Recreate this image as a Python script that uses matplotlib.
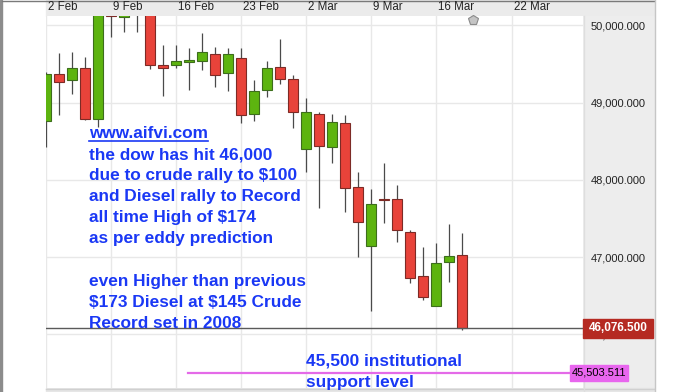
import matplotlib
matplotlib.use("Agg")
import matplotlib.pyplot as plt
from matplotlib.patches import Rectangle
from matplotlib.lines import Line2D
from matplotlib.transforms import ScaledTranslation

plt.rcParams['font.family'] = ['Liberation Sans', 'DejaVu Sans']
plt.rcParams['text.parse_math'] = False

# daily candles, 2 Feb .. 20 Mar (trading day index)
days = list(range(33))
opens = [48761, 49370, 49292, 49447, 48787, 50160, 50101, 50300, 50180, 49486,
         49486, 49525, 49538, 49628, 49383, 49577, 48852, 49162, 49460, 49305,
         48399, 48852, 48425, 48735, 47907, 47143, 47745, 47752, 47325, 46755,
         46366, 46936, 47027]
highs = [49400, 49641, 49654, 49590, 50250, 50300, 50350, 50400, 50250, 49745,
         49745, 49706, 49900, 49719, 49706, 49706, 49292, 49538, 49823, 49357,
         49059, 48878, 48852, 48839, 48101, 47881, 48218, 47933, 47351, 47131,
         47182, 47428, 47312]
lows = [48420, 48839, 49111, 48774, 48684, 49848, 49917, 49913, 49434, 49085,
        49447, 49162, 49421, 49201, 49149, 48735, 48761, 49072, 49240, 48671,
        48101, 47635, 48218, 47584, 47001, 46301, 47441, 47195, 46664, 46444,
        46366, 46677, 46060]
closes = [49370, 49266, 49447, 48787, 50180, 50125, 50250, 50200, 49486, 49447,
          49538, 49551, 49654, 49357, 49628, 48839, 49149, 49447, 49305, 48878,
          48878, 48438, 48748, 47894, 47454, 47687, 47735, 47351, 46729, 46483,
          46923, 47014, 46076.5]

week_days = [0, 5, 10, 15, 20, 25, 30, 35.85]
week_labels = ["2 Feb", "9 Feb", "16 Feb", "23 Feb", "2 Mar", "9 Mar", "16 Mar", "22 Mar"]
price_ticks = [46000, 47000, 48000, 49000, 50000]
last_price = 46076.5
support_price = 45503.511
marker_day, marker_price = 32.85, 50068

note_lines = ["www.aifvi.com",
              "the dow has hit 46,000",
              "due to crude rally to $100",
              "and Diesel rally to Record",
              "all time High of $174",
              "as per eddy prediction",
              "",
              "even Higher than previous",
              "$173 Diesel at $145 Crude",
              "Record set in 2008"]
support_lines = ["45,500 institutional", "support level"]

W, H = 688, 392
BLUE = "#1a38f5"


def fx(x):
    return x / W


def fy(y):
    return 1 - y / H


fig = plt.figure(figsize=(W / 100, H / 100), dpi=100)
fig.patch.set_facecolor("white")

# frame pieces around the plot
fig.add_artist(Rectangle((0, 0), fx(2), 1, transform=fig.transFigure, color="#8c8c8c", zorder=-2))
fig.add_artist(Rectangle((fx(46), fy(16)), (654 - 46) / W, 16 / H, transform=fig.transFigure,
                         color="#ebebeb", zorder=-2))
fig.add_artist(Rectangle((fx(583), fy(388)), 71 / W, 372 / H, transform=fig.transFigure,
                         color="#ededed", zorder=-2))
fig.add_artist(Rectangle((fx(46), 0), (654 - 46) / W, 4 / H, transform=fig.transFigure,
                         color="#e6e6e6", zorder=-2))
fig.add_artist(Line2D([fx(2), fx(654)], [fy(0.5)] * 2, transform=fig.transFigure,
                      color="#7a7a7a", lw=1, zorder=-1))
fig.add_artist(Line2D([fx(46), fx(654)], [fy(388.5)] * 2, transform=fig.transFigure,
                      color="#d0d0d0", lw=1, zorder=-1))
fig.add_artist(Line2D([fx(583.5)] * 2, [0, fy(16)], transform=fig.transFigure,
                      color="#dedede", lw=1, zorder=-1))
fig.add_artist(Line2D([fx(654.5)] * 2, [0, 1], transform=fig.transFigure,
                      color="#c6c6c6", lw=1, zorder=-1))

ax = fig.add_axes([fx(46), fy(388), (583 - 46) / W, (388 - 16) / H])
ax.set_facecolor("white")
for s in ax.spines.values():
    s.set_visible(False)
ax.set_xlim(0, 537 / 13)
ax.set_ylim(45305, 50120)

ax.set_yticks(price_ticks)
ax.set_yticklabels([f"{v:,.3f}" for v in price_ticks])
ax.yaxis.tick_right()
ax.tick_params(axis="y", length=0, pad=5.8, labelsize=8, labelcolor="#222222")

ax.set_xticks(week_days)
ax.set_xticklabels(week_labels, ha="left")
ax.xaxis.tick_top()
ax.tick_params(axis="x", length=0, pad=2.5, labelsize=8.3, labelcolor="#222222")
for lab in ax.get_xticklabels():
    lab.set_transform(lab.get_transform() + ScaledTranslation(2 / 100, 0, fig.dpi_scale_trans))

ax.grid(True, color="#e8e8e8", lw=1.0)
ax.set_axisbelow(True)

# candles
colors, edges, bottoms, heights = [], [], [], []
for o, c in zip(opens, closes):
    up = c > o
    colors.append("#5db40f" if up else "#e8433a")
    edges.append("#3d6e1c" if up else "#7d2b26")
    bottoms.append(min(o, c))
    heights.append(max(abs(c - o), 8))
ax.vlines(days, lows, highs, color="#4a4a4a", lw=0.9, zorder=2)
ax.bar(days, heights, bottom=bottoms, width=0.72, color=colors, edgecolor=edges,
       linewidth=0.8, zorder=3)

ax.plot(marker_day, marker_price, marker="p", ms=7, color="#c4c4c4", mec="#8a8a8a",
        mew=0.8, zorder=5, clip_on=False)

# last price line and label
ax.axhline(last_price, color="#5a5a5a", lw=1.0, zorder=4)
ytr = ax.get_yaxis_transform()
ax.add_patch(Rectangle((1.0, last_price - 123), 70 / 537, 246, transform=ytr,
                       color="#b52a22", clip_on=False, zorder=6))
ax.text(1 + 35 / 537, last_price, f"{last_price:,.3f}", transform=ytr, ha="center",
        va="center", color="white", fontsize=8.5, fontweight="bold", clip_on=False, zorder=7)

# support level
ax.axhline(support_price, xmin=(188 - 46) / 537, color="#e46ae8", lw=1.6, zorder=4)
ax.add_patch(Rectangle(((570 - 46) / 537, support_price - 104), 58 / 537, 208, transform=ytr,
                       color="#e866ee", clip_on=False, zorder=6))
ax.text((572 - 46) / 537, support_price, f"{support_price:,.3f}", transform=ytr, ha="left",
        va="center", color="black", fontsize=8, clip_on=False, zorder=7)

# blue notes
note_texts = []
for k, line in enumerate(note_lines):
    if line:
        t = fig.text(fx(89), fy(138 + 21.1 * k), line, ha="left", va="baseline",
                     color=BLUE, fontsize=12.4, fontweight="bold")
        note_texts.append(t)
for k, line in enumerate(support_lines):
    fig.text(fx(306), fy(365.5 + 21 * k), line, ha="left", va="baseline",
             color=BLUE, fontsize=12.4, fontweight="bold")

# underline the web address
fig.canvas.draw()
bb = note_texts[0].get_window_extent()
fig.add_artist(Line2D([bb.x0 / W, bb.x1 / W], [fy(140.7)] * 2, transform=fig.transFigure,
                      color=BLUE, lw=1.2))

fig.savefig("out.png", dpi=100)
